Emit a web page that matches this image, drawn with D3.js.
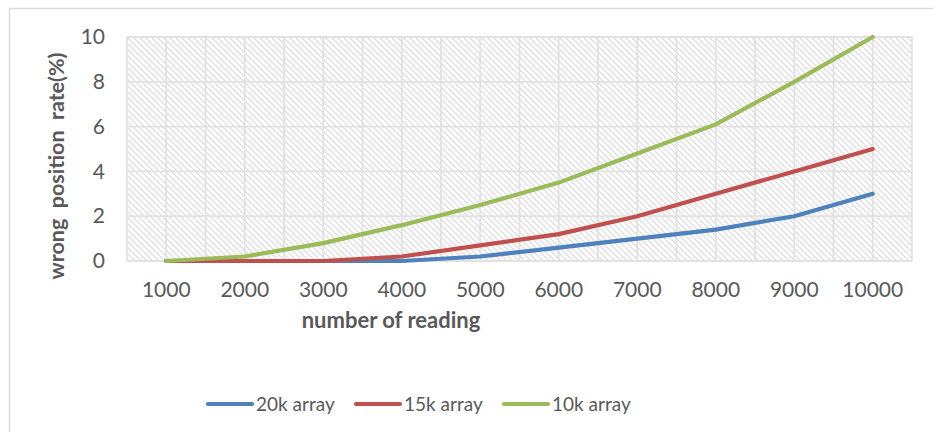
<!DOCTYPE html>
<html>
<head>
<meta charset="utf-8">
<script src="https://cdn.jsdelivr.net/npm/d3@7"></script>
<style>
  html, body { margin: 0; padding: 0; background: #fff; }
  svg { display: block; }
</style>
</head>
<body>
<svg id="chart" width="933" height="432"></svg>
<script>
// Readings count on the x axis
const categories = ["1000", "2000", "3000", "4000", "5000", "6000", "7000", "8000", "9000", "10000"];
// Wrong position rate (%) for each array size
const series20k = [0, 0, 0, 0, 0.2, 0.6, 1.0, 1.4, 2.0, 3.0];
const series15k = [0, 0, 0, 0.2, 0.7, 1.2, 2.0, 3.0, 4.0, 5.0];
const series10k = [0, 0.2, 0.8, 1.6, 2.5, 3.5, 4.8, 6.1, 8.0, 10.0];
const seriesNames = ["20k array", "15k array", "10k array"];
const yTicks = [0, 2, 4, 6, 8, 10];

const seriesList = [
  { name: seriesNames[0], values: series20k, color: "#4F81BD" },
  { name: seriesNames[1], values: series15k, color: "#C0504D" },
  { name: seriesNames[2], values: series10k, color: "#9BBB59" }
];

const svg = d3.select("#chart");
const font = "Lato, 'Open Sans', sans-serif";
const textColor = "#595959";

const plot = { left: 127, right: 912, top: 37, bottom: 261 };

// Chart frame (only top and left edges are visible)
svg.append("line").attr("x1", 9.5).attr("x2", 933).attr("y1", 8.5).attr("y2", 8.5)
  .attr("stroke", "#d9d9d9").attr("stroke-width", 1.5);
svg.append("line").attr("x1", 9.5).attr("x2", 9.5).attr("y1", 8.5).attr("y2", 432)
  .attr("stroke", "#d9d9d9").attr("stroke-width", 1.5);

// Diagonal hatch fill for the plot area
const defs = svg.append("defs");
const pat = defs.append("pattern")
  .attr("id", "hatch").attr("patternUnits", "userSpaceOnUse")
  .attr("width", 6).attr("height", 6);
pat.append("rect").attr("width", 6).attr("height", 6).attr("fill", "#fff");
pat.append("path").attr("d", "M-1,-1 L7,7 M-4,2 L4,10 M2,-4 L10,4")
  .attr("stroke", "#e0e0e0").attr("stroke-width", 1.4);

const x = d3.scaleBand().domain(categories).range([plot.left, plot.right]).paddingInner(0).paddingOuter(0);
const y = d3.scaleLinear().domain([0, 10]).range([plot.bottom, plot.top]);
const cx = c => x(c) + x.bandwidth() / 2;

svg.append("rect")
  .attr("x", plot.left).attr("y", plot.top)
  .attr("width", plot.right - plot.left).attr("height", plot.bottom - plot.top)
  .attr("fill", "url(#hatch)");

// Gridlines: vertical at category centres and boundaries, horizontal at ticks
const grid = svg.append("g").attr("stroke", "#e2e2e2").attr("stroke-width", 1.8);
const vPos = [];
categories.forEach(c => { vPos.push(x(c)); vPos.push(cx(c)); });
vPos.push(plot.right);
grid.selectAll("line.v").data(vPos).join("line")
  .attr("x1", d => d).attr("x2", d => d)
  .attr("y1", plot.top).attr("y2", plot.bottom);
grid.selectAll("line.h").data(yTicks).join("line")
  .attr("x1", plot.left).attr("x2", plot.right)
  .attr("y1", d => y(d)).attr("y2", d => y(d));

// Axes
const yAxis = d3.axisLeft(y).tickValues(yTicks).tickSize(0).tickPadding(0);
const gy = svg.append("g").attr("transform", `translate(${plot.left - 22},0)`).call(yAxis);
gy.select(".domain").remove();
gy.selectAll("text").attr("fill", textColor).style("font-family", font).style("font-size", "21px");

const xAxis = d3.axisBottom(x).tickSize(0).tickPadding(0);
const gx = svg.append("g").attr("transform", `translate(0,${plot.bottom + 21})`).call(xAxis);
gx.select(".domain").remove();
gx.selectAll("text").attr("fill", textColor).style("font-family", font).style("font-size", "21px");

// Axis titles
svg.append("text")
  .attr("transform", `translate(64,166) rotate(-90)`)
  .attr("text-anchor", "middle")
  .attr("fill", textColor)
  .style("font-family", font).style("font-size", "21.5px").style("font-weight", "bold")
  .style("white-space", "pre")
  .text("wrong  position  rate(%)");

svg.append("text")
  .attr("x", 391).attr("y", 328)
  .attr("text-anchor", "middle")
  .attr("fill", textColor)
  .style("font-family", font).style("font-size", "22px").style("font-weight", "bold")
  .text("number of reading");

// Series lines
const line = d3.line().x((d, i) => cx(categories[i])).y(d => y(d)).curve(d3.curveLinear);
svg.append("g").selectAll("path").data(seriesList).join("path")
  .attr("d", s => line(s.values))
  .attr("fill", "none")
  .attr("stroke", s => s.color)
  .attr("stroke-width", 4.2)
  .attr("stroke-linecap", "round")
  .attr("stroke-linejoin", "round");

// Legend
const legendX = [208, 356, 504];
const lg = svg.append("g").selectAll("g").data(seriesList).join("g")
  .attr("transform", (s, i) => `translate(${legendX[i]},404)`);
lg.append("line").attr("x1", 0).attr("x2", 44).attr("y1", 0).attr("y2", 0)
  .attr("stroke", s => s.color).attr("stroke-width", 4.2).attr("stroke-linecap", "round");
lg.append("text").attr("x", 48).attr("y", 7)
  .attr("fill", textColor)
  .style("font-family", font).style("font-size", "19px")
  .text(s => s.name);
</script>
</body>
</html>
